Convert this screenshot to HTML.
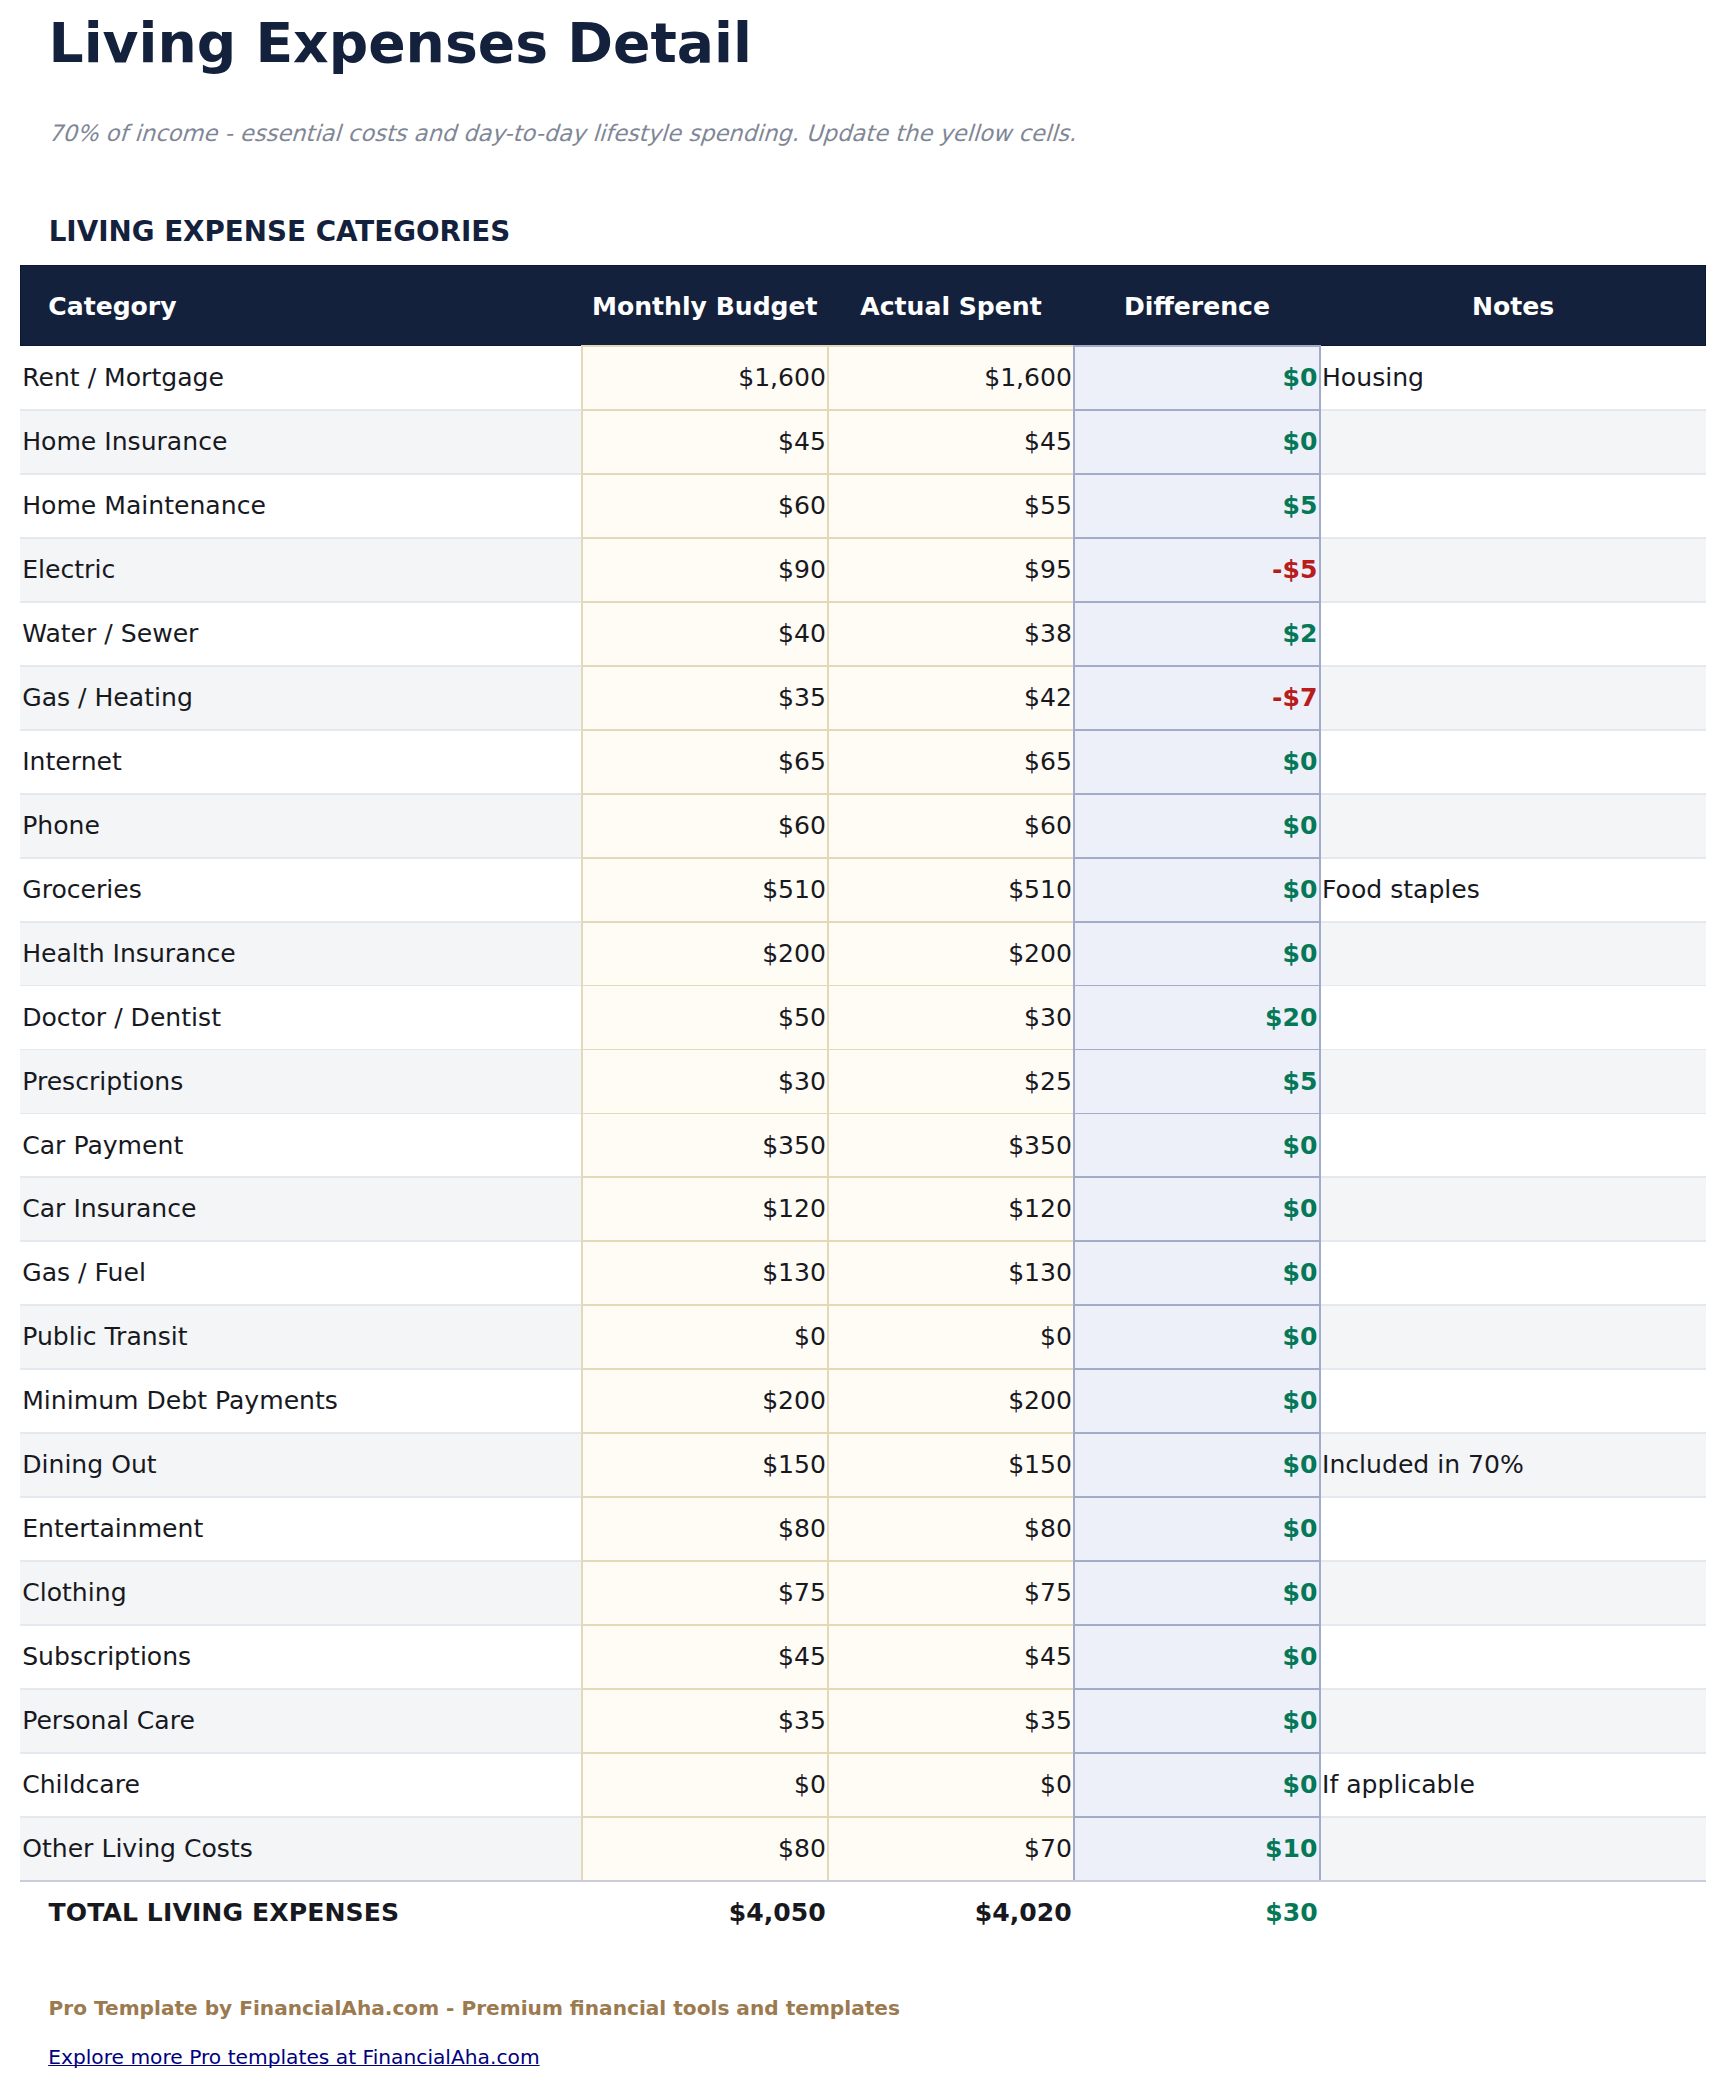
<!DOCTYPE html><html><head><meta charset="utf-8"><title>Living Expenses Detail</title><style>
html,body{margin:0;padding:0;background:#fff;}
body{width:1726px;height:2089px;overflow:hidden;font-family:"DejaVu Sans","Liberation Sans",sans-serif;color:#17191f;position:relative;}
h1{position:absolute;left:48.5px;top:10px;margin:0;font-size:55.18px;line-height:66px;font-weight:bold;color:#14213d;white-space:nowrap;}
.sub{position:absolute;left:48.2px;top:118px;margin:0;font-size:22.585px;line-height:30px;color:#7f8797;white-space:nowrap;transform:skewX(-17deg);transform-origin:0 23px;}
h2{position:absolute;left:48.7px;top:215.4px;margin:0;font-size:27.75px;line-height:34px;font-weight:bold;color:#14213d;white-space:nowrap;}
.tbl{position:absolute;left:20px;top:265px;width:1686px;height:1700px;font-size:25.1px;}
.thead{position:absolute;left:0;top:0;width:1686px;height:81px;background:#14213d;color:#fff;font-weight:bold;line-height:82px;box-sizing:border-box;border:1px solid #0c1732;}
.thead span{position:absolute;top:0;text-align:center;white-space:nowrap;}
.h1c{left:27.3px;text-align:left !important;}
.h2c{left:560.8px;width:246px}.h3c{left:807px;width:246px}.h4c{left:1053px;width:246px}.h5c{left:1299px;width:386px}
.bg{position:absolute;left:0;width:1686px;height:63.96px;}
.bg.alt{background:#f4f5f7;}
.colbg{position:absolute;}
.colbg.y{left:561px;width:494px;background:#fffcf5;}
.colbg.bl{left:1053px;width:248px;background:#edf0f9;}
.hr{position:absolute;left:0;width:1686px;height:1.726px;}
.hr i{position:absolute;top:0;height:100%;}
.hr .s0{left:0;width:1686px;background:#c8ccdc;}
.hr .s1{left:0;width:561px;background:#e6e8ef;}
.hr .s2{left:561px;width:494px;background:#e3d8b8;}
.hr .s3{left:1053px;width:248px;background:#a3abca;}
.hr .s4{left:1301px;width:385px;background:#e6e8ef;}
.vr{position:absolute;width:1.726px;}
.vr.y{background:#e3d8b8;}
.vr.bl{background:#a3abca;}
.v1{left:561px}.v2{left:806.9px}.v3{left:1053px}.v4{left:1298.9px}
.row{position:absolute;left:0;width:1686px;height:63.96px;line-height:66px;white-space:nowrap;}
.row span{position:absolute;top:0;height:100%;box-sizing:border-box;}
.cat{left:0;width:561px;padding-left:2.2px;}
.in{text-align:right;padding-right:3px;width:248px;}
.in.b{left:561px;}
.in.a{left:807px;}
.df{left:1053px;width:248px;text-align:right;padding-right:3.6px;font-weight:bold;}
.nt{left:1302px;}
.pos{color:#067857}.neg{color:#b91c1c}
.tot{font-weight:bold;line-height:65.6px;}
.tot .cat{padding-left:28.5px;letter-spacing:0.1px;}
.tot .in,.tot .df{padding-right:3.3px;}
.pro{position:absolute;left:48.5px;top:1994px;margin:0;font-size:20.12px;line-height:28px;font-weight:bold;color:#9c7a4f;white-space:nowrap;}
.lnk{position:absolute;left:48.2px;top:2042.5px;margin:0;font-size:20.22px;line-height:28px;white-space:nowrap;}
.lnk a{color:#000080;text-decoration:underline;text-decoration-thickness:1.2px;text-decoration-skip-ink:none;text-underline-offset:0.8px;}

</style></head><body>
<h1>Living Expenses Detail</h1>
<p class="sub">70% of income - essential costs and day-to-day lifestyle spending. Update the yellow cells.</p>
<h2>LIVING EXPENSE CATEGORIES</h2>
<div class="tbl">
<div class="thead"><span class="h1c">Category</span><span class="h2c">Monthly Budget</span><span class="h3c">Actual Spent</span><span class="h4c">Difference</span><span class="h5c">Notes</span></div>
<div class="bg alt" style="top:144px;height:64px"></div>
<div class="bg alt" style="top:272px;height:64px"></div>
<div class="bg alt" style="top:400px;height:64px"></div>
<div class="bg alt" style="top:528px;height:64px"></div>
<div class="bg alt" style="top:656px;height:64px"></div>
<div class="bg alt" style="top:784px;height:64px"></div>
<div class="bg alt" style="top:911px;height:64px"></div>
<div class="bg alt" style="top:1039px;height:64px"></div>
<div class="bg alt" style="top:1167px;height:64px"></div>
<div class="bg alt" style="top:1295px;height:64px"></div>
<div class="bg alt" style="top:1423px;height:64px"></div>
<div class="bg alt" style="top:1551px;height:64px"></div>
<div class="colbg y" style="top:80.00px;height:1537.00px"></div>
<div class="colbg bl" style="top:80.00px;height:1537.00px"></div>
<div class="hr" style="top:80px;height:2px"><i class="s2"></i><i class="s3"></i></div>
<div class="hr" style="top:144px;height:2px"><i class="s1"></i><i class="s2"></i><i class="s3"></i><i class="s4"></i></div>
<div class="hr" style="top:208px;height:2px"><i class="s1"></i><i class="s2"></i><i class="s3"></i><i class="s4"></i></div>
<div class="hr" style="top:272px;height:2px"><i class="s1"></i><i class="s2"></i><i class="s3"></i><i class="s4"></i></div>
<div class="hr" style="top:336px;height:2px"><i class="s1"></i><i class="s2"></i><i class="s3"></i><i class="s4"></i></div>
<div class="hr" style="top:400px;height:2px"><i class="s1"></i><i class="s2"></i><i class="s3"></i><i class="s4"></i></div>
<div class="hr" style="top:464px;height:2px"><i class="s1"></i><i class="s2"></i><i class="s3"></i><i class="s4"></i></div>
<div class="hr" style="top:528px;height:2px"><i class="s1"></i><i class="s2"></i><i class="s3"></i><i class="s4"></i></div>
<div class="hr" style="top:592px;height:2px"><i class="s1"></i><i class="s2"></i><i class="s3"></i><i class="s4"></i></div>
<div class="hr" style="top:656px;height:2px"><i class="s1"></i><i class="s2"></i><i class="s3"></i><i class="s4"></i></div>
<div class="hr" style="top:720px;height:1px"><i class="s1"></i><i class="s2"></i><i class="s3"></i><i class="s4"></i></div>
<div class="hr" style="top:784px;height:1px"><i class="s1"></i><i class="s2"></i><i class="s3"></i><i class="s4"></i></div>
<div class="hr" style="top:848px;height:1px"><i class="s1"></i><i class="s2"></i><i class="s3"></i><i class="s4"></i></div>
<div class="hr" style="top:911px;height:2px"><i class="s1"></i><i class="s2"></i><i class="s3"></i><i class="s4"></i></div>
<div class="hr" style="top:975px;height:2px"><i class="s1"></i><i class="s2"></i><i class="s3"></i><i class="s4"></i></div>
<div class="hr" style="top:1039px;height:2px"><i class="s1"></i><i class="s2"></i><i class="s3"></i><i class="s4"></i></div>
<div class="hr" style="top:1103px;height:2px"><i class="s1"></i><i class="s2"></i><i class="s3"></i><i class="s4"></i></div>
<div class="hr" style="top:1167px;height:2px"><i class="s1"></i><i class="s2"></i><i class="s3"></i><i class="s4"></i></div>
<div class="hr" style="top:1231px;height:2px"><i class="s1"></i><i class="s2"></i><i class="s3"></i><i class="s4"></i></div>
<div class="hr" style="top:1295px;height:2px"><i class="s1"></i><i class="s2"></i><i class="s3"></i><i class="s4"></i></div>
<div class="hr" style="top:1359px;height:2px"><i class="s1"></i><i class="s2"></i><i class="s3"></i><i class="s4"></i></div>
<div class="hr" style="top:1423px;height:2px"><i class="s1"></i><i class="s2"></i><i class="s3"></i><i class="s4"></i></div>
<div class="hr" style="top:1487px;height:2px"><i class="s1"></i><i class="s2"></i><i class="s3"></i><i class="s4"></i></div>
<div class="hr" style="top:1551px;height:2px"><i class="s1"></i><i class="s2"></i><i class="s3"></i><i class="s4"></i></div>
<div class="hr end" style="top:1615px;height:2px"><i class="s0"></i></div>
<div class="vr v1 y" style="top:80.00px;height:1535.00px"></div>
<div class="vr v2 y" style="top:80.00px;height:1535.00px"></div>
<div class="vr v3 bl" style="top:80.00px;height:1535.00px"></div>
<div class="vr v4 bl" style="top:80.00px;height:1535.00px"></div>
<div class="row" style="top:80.00px"><span class="cat">Rent / Mortgage</span><span class="in b">$1,600</span><span class="in a">$1,600</span><span class="df pos">$0</span><span class="nt">Housing</span></div>
<div class="row" style="top:143.96px"><span class="cat">Home Insurance</span><span class="in b">$45</span><span class="in a">$45</span><span class="df pos">$0</span></div>
<div class="row" style="top:207.92px"><span class="cat">Home Maintenance</span><span class="in b">$60</span><span class="in a">$55</span><span class="df pos">$5</span></div>
<div class="row" style="top:271.88px"><span class="cat">Electric</span><span class="in b">$90</span><span class="in a">$95</span><span class="df neg">-$5</span></div>
<div class="row" style="top:335.84px"><span class="cat">Water / Sewer</span><span class="in b">$40</span><span class="in a">$38</span><span class="df pos">$2</span></div>
<div class="row" style="top:399.80px"><span class="cat">Gas / Heating</span><span class="in b">$35</span><span class="in a">$42</span><span class="df neg">-$7</span></div>
<div class="row" style="top:463.76px"><span class="cat">Internet</span><span class="in b">$65</span><span class="in a">$65</span><span class="df pos">$0</span></div>
<div class="row" style="top:527.72px"><span class="cat">Phone</span><span class="in b">$60</span><span class="in a">$60</span><span class="df pos">$0</span></div>
<div class="row" style="top:591.68px"><span class="cat">Groceries</span><span class="in b">$510</span><span class="in a">$510</span><span class="df pos">$0</span><span class="nt">Food staples</span></div>
<div class="row" style="top:655.64px"><span class="cat">Health Insurance</span><span class="in b">$200</span><span class="in a">$200</span><span class="df pos">$0</span></div>
<div class="row" style="top:719.60px"><span class="cat">Doctor / Dentist</span><span class="in b">$50</span><span class="in a">$30</span><span class="df pos">$20</span></div>
<div class="row" style="top:783.56px"><span class="cat">Prescriptions</span><span class="in b">$30</span><span class="in a">$25</span><span class="df pos">$5</span></div>
<div class="row" style="top:847.52px"><span class="cat">Car Payment</span><span class="in b">$350</span><span class="in a">$350</span><span class="df pos">$0</span></div>
<div class="row" style="top:911.48px"><span class="cat">Car Insurance</span><span class="in b">$120</span><span class="in a">$120</span><span class="df pos">$0</span></div>
<div class="row" style="top:975.44px"><span class="cat">Gas / Fuel</span><span class="in b">$130</span><span class="in a">$130</span><span class="df pos">$0</span></div>
<div class="row" style="top:1039.40px"><span class="cat">Public Transit</span><span class="in b">$0</span><span class="in a">$0</span><span class="df pos">$0</span></div>
<div class="row" style="top:1103.36px"><span class="cat">Minimum Debt Payments</span><span class="in b">$200</span><span class="in a">$200</span><span class="df pos">$0</span></div>
<div class="row" style="top:1167.32px"><span class="cat">Dining Out</span><span class="in b">$150</span><span class="in a">$150</span><span class="df pos">$0</span><span class="nt">Included in 70%</span></div>
<div class="row" style="top:1231.28px"><span class="cat">Entertainment</span><span class="in b">$80</span><span class="in a">$80</span><span class="df pos">$0</span></div>
<div class="row" style="top:1295.24px"><span class="cat">Clothing</span><span class="in b">$75</span><span class="in a">$75</span><span class="df pos">$0</span></div>
<div class="row" style="top:1359.20px"><span class="cat">Subscriptions</span><span class="in b">$45</span><span class="in a">$45</span><span class="df pos">$0</span></div>
<div class="row" style="top:1423.16px"><span class="cat">Personal Care</span><span class="in b">$35</span><span class="in a">$35</span><span class="df pos">$0</span></div>
<div class="row" style="top:1487.12px"><span class="cat">Childcare</span><span class="in b">$0</span><span class="in a">$0</span><span class="df pos">$0</span><span class="nt">If applicable</span></div>
<div class="row" style="top:1551.08px"><span class="cat">Other Living Costs</span><span class="in b">$80</span><span class="in a">$70</span><span class="df pos">$10</span></div>
<div class="row tot" style="top:1615px"><span class="cat">TOTAL LIVING EXPENSES</span><span class="in b">$4,050</span><span class="in a">$4,020</span><span class="df pos">$30</span></div>
</div>
<p class="pro">Pro Template by FinancialAha.com - Premium financial tools and templates</p>
<p class="lnk"><a href="#">Explore more Pro templates at FinancialAha.com</a></p>
</body></html>
